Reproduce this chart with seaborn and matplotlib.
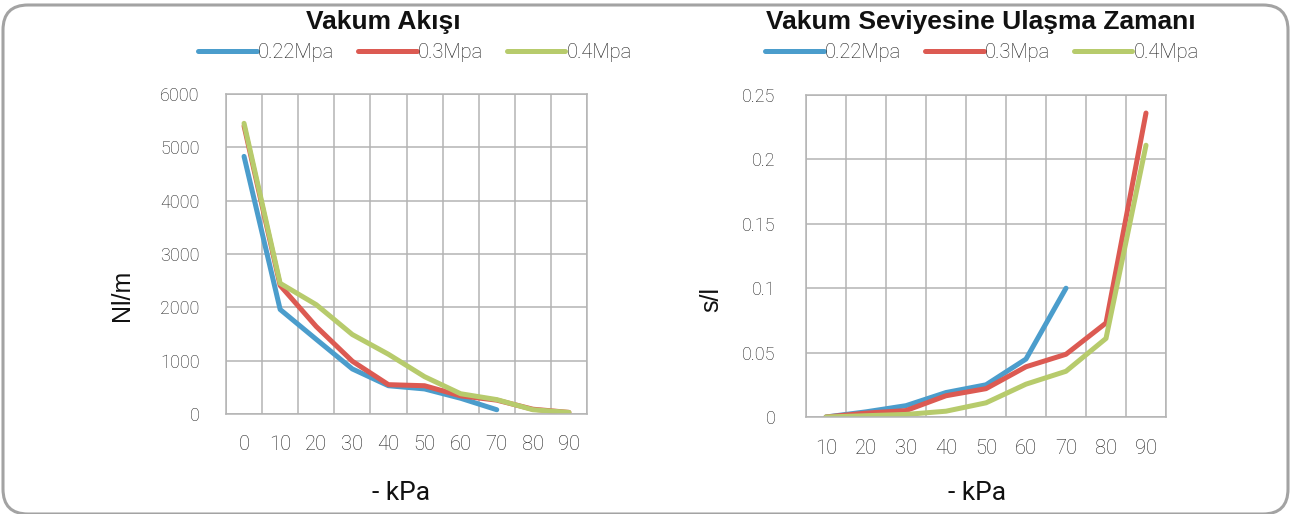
import matplotlib
matplotlib.use("Agg")
import matplotlib.pyplot as plt
from matplotlib.patches import FancyBboxPatch
from matplotlib.ticker import MultipleLocator, FuncFormatter
import numpy as np
import pandas as pd
import seaborn as sns

# ---- data ----
series_names = ["0.22Mpa", "0.3Mpa", "0.4Mpa"]
series_colors = ["#4b9dcc", "#dc5a52", "#b7cb6c"]

# Vakum Akisi (Nl/m vs -kPa)
flow_kpa = [0, 10, 20, 30, 40, 50, 60, 70, 80, 90]
flow_022 = [4830, 1960, 1400, 845, 530, 470, 295, 80]
flow_03 = [5400, 2410, 1640, 990, 550, 530, 340, 260, 90, 30]
flow_04 = [5450, 2450, 2050, 1490, 1120, 700, 380, 270, 80, 30]

# Vakum seviyesine ulasma zamani (s/l vs -kPa)
time_kpa = [10, 20, 30, 40, 50, 60, 70, 80, 90]
time_022 = [0, 0.004, 0.0088, 0.019, 0.025, 0.045, 0.1]
time_03 = [0, 0.003, 0.005, 0.0165, 0.022, 0.039, 0.0487, 0.073, 0.236]
time_04 = [0, 0.001, 0.002, 0.0045, 0.011, 0.0255, 0.0355, 0.061, 0.211]


def long_df(xs, ys_list):
    rows = []
    for name, ys in zip(series_names, ys_list):
        for x, y in zip(xs, ys):
            rows.append({"kpa": x, "val": y, "seri": name})
    return pd.DataFrame(rows)


df_flow = long_df(flow_kpa, [flow_022, flow_03, flow_04])
df_time = long_df(time_kpa, [time_022, time_03, time_04])

sns.set_style("white")
plt.rcParams["font.family"] = ["Roboto", "DejaVu Sans"]

W, H = 1291, 514
fig = plt.figure(figsize=(W / 100, H / 100), dpi=100)

GRID = "#b4b4b4"
TXT = "#1e1e1e"
LIGHT = ["Roboto", "DejaVu Sans"]
ARIAL = ["Liberation Sans", "Arial", "DejaVu Sans"]


def px_axes(x0, x1, ytop, ybot):
    return fig.add_axes([x0 / W, 1 - ybot / H, (x1 - x0) / W, (ybot - ytop) / H])


def style_axes(ax, xs, ylim, ystep, ylabel_pad, xlabel_pad):
    ax.set_xlim(xs[0] - 5, xs[-1] + 5)
    ax.set_ylim(*ylim)
    ax.set_xticks(xs)
    ax.set_xticklabels([str(x) for x in xs], family=LIGHT, fontweight="light",
                       fontsize=14.5, color=TXT)
    ax.set_xticks(np.arange(xs[0] - 5, xs[-1] + 6, 10), minor=True)
    ax.yaxis.set_major_locator(MultipleLocator(ystep))
    ax.yaxis.set_major_formatter(FuncFormatter(lambda v, p: "{:g}".format(round(v, 4))))
    ax.tick_params(axis="x", which="major", length=0, pad=xlabel_pad)
    ax.tick_params(axis="x", which="minor", length=7, width=1.1, color=GRID)
    ax.tick_params(axis="y", which="major", length=8, width=1.1, color=GRID,
                   pad=ylabel_pad, labelsize=13, labelcolor=TXT)
    for lab in ax.get_yticklabels():
        lab.set_fontweight("light")
    ax.grid(False)
    ax.grid(True, axis="x", which="minor", color=GRID, lw=1.1)
    ax.grid(True, axis="y", which="major", color=GRID, lw=1.1)
    for s in ax.spines.values():
        s.set_color(GRID)
        s.set_linewidth(1.1)
    ax.set_xlabel("")
    ax.set_ylabel("")
    ax.set_facecolor("white")


def draw(ax, df, legend_center):
    sns.lineplot(data=df, x="kpa", y="val", hue="seri", hue_order=series_names,
                 palette=dict(zip(series_names, series_colors)), linewidth=3.6,
                 ax=ax, legend=True, sort=False)
    for ln in ax.lines:
        ln.set_solid_capstyle("round")
        ln.set_solid_joinstyle("round")
    handles, labels = ax.get_legend_handles_labels()
    for h in handles:
        h.set_linewidth(3.6)
    ax.legend(handles, labels, loc="center", ncol=3, frameon=False,
              bbox_to_anchor=(legend_center[0] / W, 1 - legend_center[1] / H),
              bbox_transform=fig.transFigure, handlelength=2.9,
              handletextpad=0.05, columnspacing=1.2, borderaxespad=0,
              prop={"family": LIGHT, "weight": "light", "size": 14.5})
    for t in ax.get_legend().get_texts():
        t.set_color(TXT)


ax1 = px_axes(226, 587, 94, 414)
draw(ax1, df_flow, (415, 53))
style_axes(ax1, flow_kpa, (0, 6000), 1000, 11, 15)

ax2 = px_axes(806, 1166, 95, 417)
draw(ax2, df_time, (982, 53))
style_axes(ax2, time_kpa, (0, 0.25), 0.05, 14, 16)

# titles
fig.text(383 / W, 1 - 22 / H, "Vakum Akışı", ha="center", va="center",
         fontsize=19, fontweight="bold", family=ARIAL, color="#111111")
fig.text(981 / W, 1 - 22 / H, "Vakum Seviyesine Ulaşma Zamanı", ha="center", va="center",
         fontsize=19, fontweight="bold", family=ARIAL, color="#111111")

# axis titles
fig.text(122 / W, 1 - 295 / H, "Nl/m", rotation=90, ha="center", va="center",
         fontsize=18, family=ARIAL, color="#111111")
fig.text(711 / W, 1 - 300 / H, "s/l", rotation=90, ha="center", va="center",
         fontsize=18, family=ARIAL, color="#111111")
fig.text(401 / W, 1 - 493 / H, "- kPa", ha="center", va="center",
         fontsize=19, family=LIGHT, color="#111111")
fig.text(977 / W, 1 - 493 / H, "- kPa", ha="center", va="center",
         fontsize=19, family=LIGHT, color="#111111")

# rounded outer frame
frame = FancyBboxPatch((0.03, 0.0), 12.85, 5.09,
                       boxstyle="round,pad=0,rounding_size=0.25",
                       transform=fig.dpi_scale_trans, fill=False,
                       edgecolor="#a3a3a3", linewidth=2.2, clip_on=False)
fig.patches.append(frame)

fig.savefig("out.png", dpi=100, facecolor="white")
